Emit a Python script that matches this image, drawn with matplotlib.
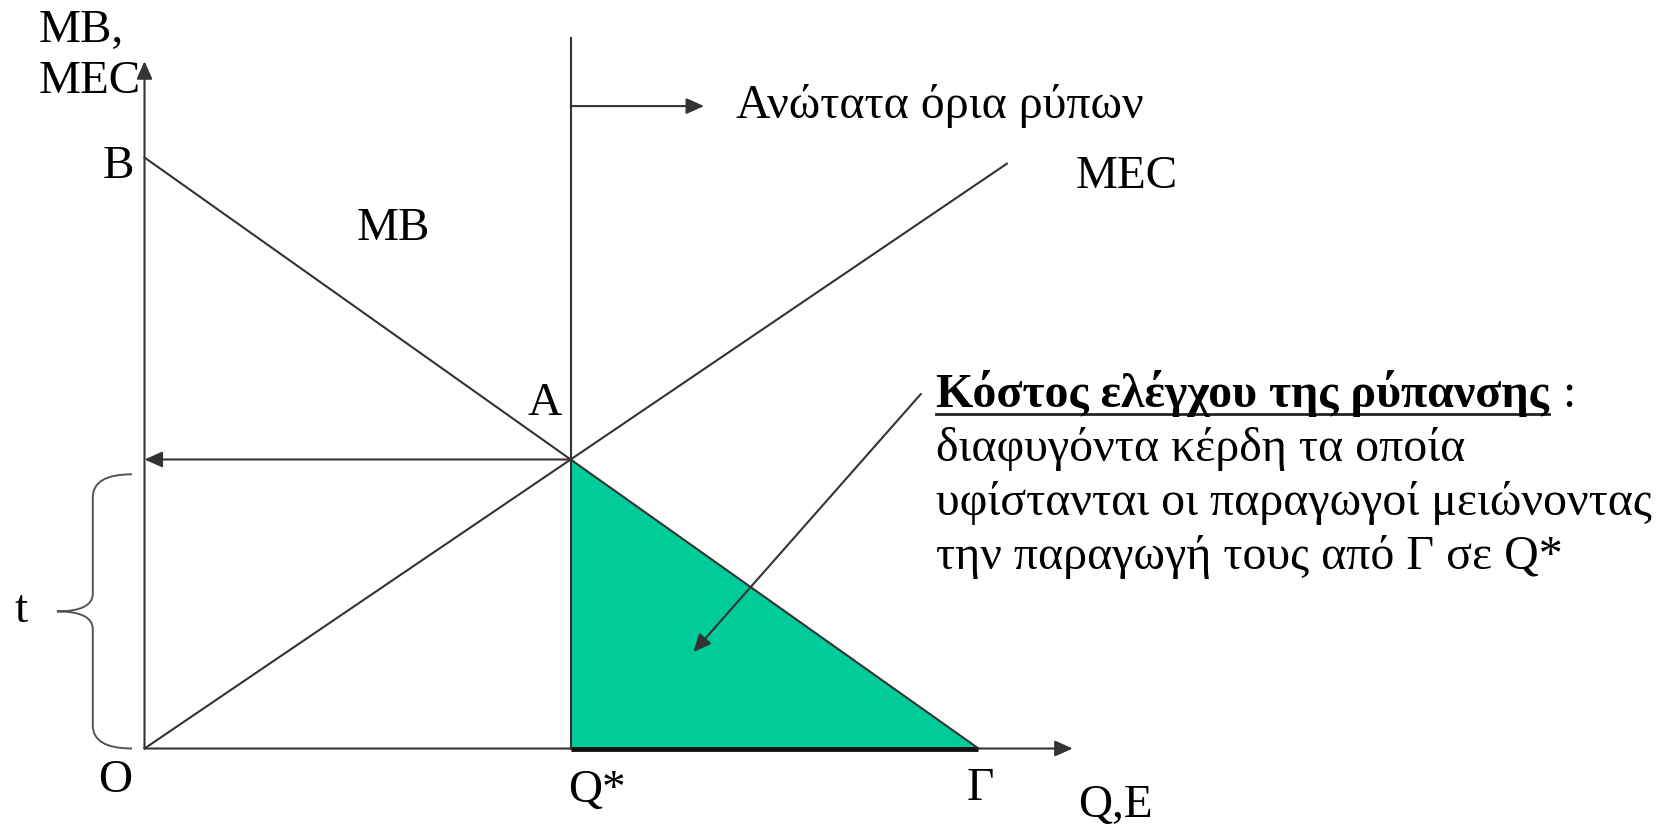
import matplotlib
matplotlib.use('Agg')
import matplotlib.pyplot as plt
import numpy as np
from matplotlib.path import Path
from matplotlib.patches import PathPatch, Polygon
from matplotlib.lines import Line2D

plt.rcParams['font.family'] = ['Liberation Serif', 'DejaVu Serif']

# model values (data units)
mb_intercept = 10.0      # B
gamma = 10.0             # Γ, where MB = 0
mec_slope = 0.957
mec_end = 10.34
axis_q_max = 11.13
axis_v_max = 11.63
cap_top = 12.02
cap_arrow_y = 10.87
cap_arrow_len = 1.6
brace_top = 4.64

point_labels = ['B', 'A', 'O', 'Q*', 'Γ']
note_title = 'Κόστος ελέγχου της ρύπανσης'
note_lines = ['διαφυγόντα κέρδη τα οποία',
              'υφίστανται οι παραγωγοί μειώνοντας',
              'την παραγωγή τους από Γ σε Q*']

# optimum where MB = MEC
q_star = mb_intercept / (mec_slope + mb_intercept / gamma)
v_star = mec_slope * q_star

W, H = 1670, 831
fig = plt.figure(figsize=(W / 100, H / 100), dpi=100)
ax = fig.add_axes([0, 0, 1, 1])
ax.axis('off')
ox, oy = 144.5, 748.5   # pixel position of the origin
sx, sy = 83.4, 59.1     # pixels per unit
ax.set_xlim(-ox / sx, (W - ox) / sx)
ax.set_ylim(-(H - oy) / sy, oy / sy)

lc = '#333333'
lw = 1.5
fs = 34
gfs = 34.5
arrow_kw = dict(arrowstyle='-|>,head_length=0.45,head_width=0.2', color=lc, lw=lw,
                mutation_scale=24, shrinkA=0, shrinkB=0)

# shaded triangle: cost of pollution control
tri = Polygon([[q_star, v_star], [q_star, 0], [gamma, 0]], closed=True,
              facecolor='#00CC99', edgecolor='none', zorder=1)
ax.add_patch(tri)
ax.plot([q_star, gamma], [0, 0], color='#111111', lw=3.5, zorder=3, solid_capstyle='butt')

# axes with arrows
ax.annotate('', xy=(axis_q_max, 0), xytext=(0, 0), arrowprops=arrow_kw, zorder=2)
ax.annotate('', xy=(0, axis_v_max), xytext=(0, 0), arrowprops=arrow_kw, zorder=2)

# MB and MEC curves
q = np.array([0, gamma])
ax.plot(q, mb_intercept * (1 - q / gamma), color=lc, lw=lw, zorder=4)
q2 = np.array([0, mec_end])
ax.plot(q2, mec_slope * q2, color=lc, lw=lw, zorder=4)

# emission standard (vertical line at Q*)
ax.plot([q_star, q_star], [0, cap_top], color=lc, lw=lw, zorder=4)
ax.annotate('', xy=(q_star + cap_arrow_len, cap_arrow_y), xytext=(q_star, cap_arrow_y),
            arrowprops=arrow_kw, zorder=4)
# horizontal arrow from A to vertical axis
ax.annotate('', xy=(0, v_star), xytext=(q_star, v_star), arrowprops=arrow_kw, zorder=4)

# brace for t
xv, xe, xt = -0.62, -0.15, -1.05
ym = brace_top / 2
ry, rm = 0.39, 0.3
verts = [(xe, brace_top), (xv, brace_top), (xv, brace_top - ry),
         (xv, ym + rm),
         (xv, ym), (xt, ym),
         (xv, ym), (xv, ym - rm),
         (xv, ry),
         (xv, 0), (xe, 0)]
codes = [Path.MOVETO, Path.CURVE3, Path.CURVE3,
         Path.LINETO,
         Path.CURVE3, Path.CURVE3,
         Path.CURVE3, Path.CURVE3,
         Path.LINETO,
         Path.CURVE3, Path.CURVE3]
ax.add_patch(PathPatch(Path(verts, codes), facecolor='none', edgecolor='#555555', lw=1.4))


def ftext(x, y, s, **kw):
    # x, y in pixels from top-left; y is baseline
    return fig.text(x / W, 1 - y / H, s, fontsize=kw.pop('fontsize', fs), va='baseline', **kw)


# axis labels
ftext(39, 42, 'MB,')
ftext(39, 93, 'MEC')
ftext(1078, 817, 'Q,E')
ftext(21, 622, 't', ha='center')
ftext(357, 240, 'MB')
ftext(1076, 188, 'MEC')
ftext(736, 118, 'Ανώτατα όρια ρύπων', fontsize=gfs)

# point labels
ftext(118, 178, point_labels[0], ha='center')
ftext(545, 415, point_labels[1], ha='center')
ftext(115, 792, point_labels[2], ha='center')
ftext(597, 802, point_labels[3], ha='center')
ftext(980, 800, point_labels[4], ha='center')

# explanatory note
nx = 936
t0 = ftext(nx, 407, note_title, fontweight='bold', fontsize=gfs)
fig.canvas.draw()
bb = t0.get_window_extent(fig.canvas.get_renderer())
yu = 1 - 414 / H
fig.add_artist(Line2D([bb.x0 / W, bb.x1 / W], [yu, yu], transform=fig.transFigure,
                      color='#222222', lw=2))
ftext(bb.x1 + 14, 407, ':', fontsize=gfs)
for i, line in enumerate(note_lines):
    ftext(nx, 461 + 54 * i, line, fontsize=gfs)

# arrow from note to the shaded area
cx = (2 * q_star + gamma) / 3 - 0.16
cy = v_star / 3
ax.annotate('', xy=(cx, cy), xytext=(9.31, 6.0), arrowprops=arrow_kw, zorder=5)

fig.savefig('out.png', dpi=100)
